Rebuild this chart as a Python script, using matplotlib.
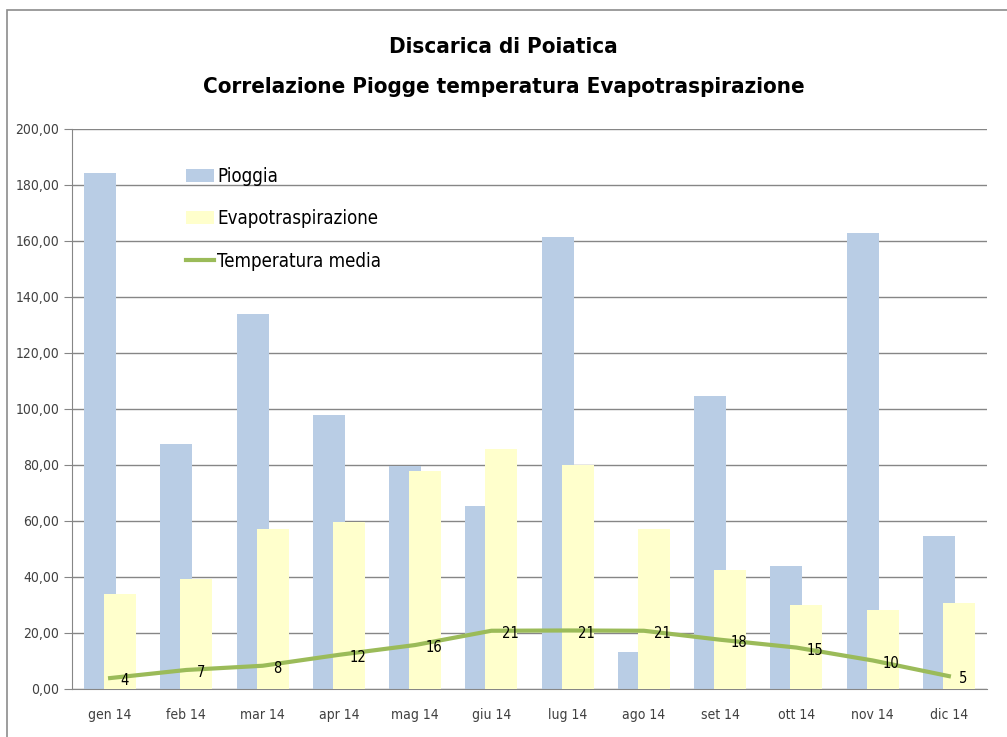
import matplotlib.pyplot as plt
import matplotlib.patches as mpatches
import numpy as np

months = ['gen 14', 'feb 14', 'mar 14', 'apr 14', 'mag 14', 'giu 14',
          'lug 14', 'ago 14', 'set 14', 'ott 14', 'nov 14', 'dic 14']
pioggia = [184.3, 87.5, 134.0, 97.8, 79.6, 65.4, 161.4, 13.2, 104.6, 44.0, 162.9, 54.6]
evapo = [34.0, 39.3, 57.1, 59.6, 77.9, 85.7, 80.0, 57.1, 42.5, 30.0, 28.2, 30.7]
temperatura = [3.9, 6.8, 8.3, 12.2, 15.7, 20.8, 20.9, 20.8, 17.6, 14.8, 10.2, 4.6]

plt.rcParams['font.family'] = ['DejaVu Sans']
plt.rcParams['font.stretch'] = 'condensed'

fig = plt.figure(figsize=(10.07, 7.37), dpi=100)

# outer chart border
fig.patches.append(mpatches.Rectangle((7 / 1007, -0.05), 1.1, 1.05 - 10 / 737,
                                      transform=fig.transFigure, fill=False,
                                      edgecolor='#8c8c8c', linewidth=1.2))

ax = fig.add_axes([72 / 1007, (737 - 689) / 737, (987 - 72) / 1007, (689 - 129) / 737])

x = np.arange(len(months))
w = 0.42
b1 = ax.bar(x - 0.131, pioggia, width=w, color='#B9CDE5', label='Pioggia', zorder=2)
b2 = ax.bar(x + 0.131, evapo, width=w, color='#FFFFCC', label='Evapotraspirazione', zorder=3)
l1, = ax.plot(x, temperatura, color='#9BBB59', linewidth=3, label='Temperatura media', zorder=4)

for xi, t in zip(x, temperatura):
    ax.annotate(f'{t:.0f}', (xi, t), xytext=(7.5, -2), textcoords='offset points',
                ha='left', va='center', fontsize=10.5, color='black', zorder=5)

ax.set_xlim(-0.5, len(months) - 0.5)
ax.set_ylim(0, 200)
ax.set_yticks(np.arange(0, 201, 20))
ax.set_yticklabels([f'{v:.2f}'.replace('.', ',') for v in np.arange(0, 201, 20)])
ax.set_xticks(x)
ax.set_xticklabels(months)
ax.tick_params(axis='y', length=6, color='#868686', labelsize=10, labelcolor='#404040', pad=3)
ax.tick_params(axis='x', length=0, labelsize=10, labelcolor='#404040', pad=14)
ax.grid(axis='y', color='#868686', linewidth=1, zorder=0)
ax.set_axisbelow(True)
for s in ['top', 'right']:
    ax.spines[s].set_visible(False)
ax.spines['left'].set_color('#868686')
ax.spines['bottom'].set_color('#868686')

leg = ax.legend([b1, b2, l1], ['Pioggia', 'Evapotraspirazione', 'Temperatura media'],
                loc='upper left', bbox_to_anchor=(0.106, 0.962), frameon=False,
                fontsize=13.4, labelspacing=1.25, handlelength=1.5, handleheight=0.7,
                handletextpad=0.2)

fig.text(0.5, 1 - 47 / 737, 'Discarica di Poiatica', ha='center', va='center',
         fontsize=16, fontweight='bold')
fig.text(0.5, 1 - 87 / 737, 'Correlazione Piogge temperatura Evapotraspirazione',
         ha='center', va='center', fontsize=16, fontweight='bold')

fig.savefig('out.png', dpi=100)
